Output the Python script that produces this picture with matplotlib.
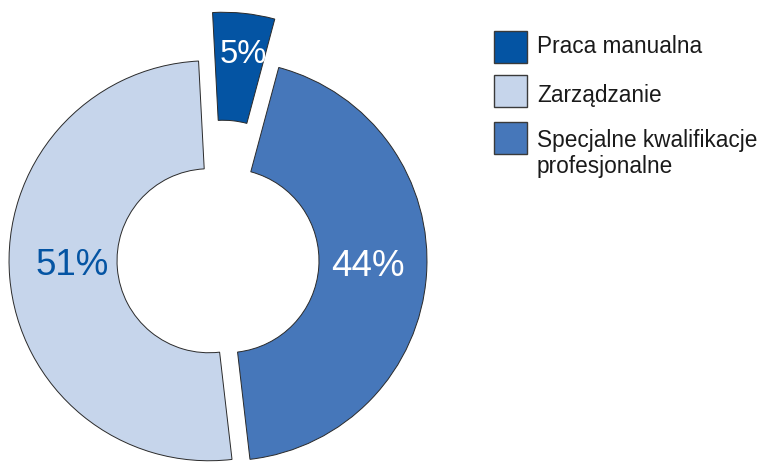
import matplotlib
matplotlib.use("Agg")
import matplotlib.pyplot as plt
from matplotlib.patches import Rectangle

# ---- data ----
categories = ["Praca manualna", "Zarządzanie", "Specjalne kwalifikacje\nprofesjonalne"]
shares = [5, 51, 44]
pct_labels = ["5%", "51%", "44%"]

# ---- style ----
colors = ["#0454A3", "#C6D5EB", "#4677BA"]
label_colors = ["white", "#0454A3", "white"]
explode = [0.24, 0.045, 0.045]
FONT = ["Liberation Sans", "DejaVu Sans"]
plt.rcParams["font.family"] = FONT

W, H = 766, 464
fig = plt.figure(figsize=(W / 100, H / 100), dpi=100)

# pie axes: 1 data unit = 200 px, pie centre at pixel (218, 261) from top-left
CX, CY, RPX = 218, 261, 200
ax = fig.add_axes([0, 0, 1, 1])
wedges, texts, autotexts = ax.pie(
    shares,
    colors=colors,
    explode=explode,
    startangle=75,
    counterclock=True,
    radius=1.0,
    autopct=lambda p: "",
    pctdistance=0.72,
    wedgeprops=dict(width=0.54, edgecolor="#2a2a2a", linewidth=0.7),
)
ax.set_xlim(-CX / RPX, (W - CX) / RPX)
ax.set_ylim(-(H - CY) / RPX, CY / RPX)
ax.set_aspect("auto")
ax.axis("off")

# percentage labels (pixel positions of text baseline centres, font sizes)
label_px = [(243, 63), (72, 275), (367.5, 275.5)]
label_fs = [23.5, 26.5, 26.5]
for t, s, c, (px, py), fs in zip(autotexts, pct_labels, label_colors, label_px, label_fs):
    t.set_text(s)
    t.set_color(c)
    t.set_fontsize(fs)
    t.set_ha("center")
    t.set_va("baseline")
    t.set_position(((px - CX) / RPX, (CY - py) / RPX))

# legend drawn in a pixel-coordinate overlay
lax = fig.add_axes([0, 0, 1, 1])
lax.set_xlim(0, W)
lax.set_ylim(H, 0)
lax.axis("off")
lax.patch.set_alpha(0)

sq_tops = [31.7, 75.7, 122.7]
baselines = [53.3, 101.7, 147.3]
for cat, col, top, base in zip(categories, colors, sq_tops, baselines):
    lax.add_patch(Rectangle((494.3, top), 32.4, 32.3, facecolor=col,
                            edgecolor="#3a3a3a", linewidth=1.0))
    lines = cat.split("\n")
    for i, ln in enumerate(lines):
        lax.text(537, base + i * 26, ln, fontsize=16.3, color="#1a1a1a",
                 ha="left", va="baseline")

fig.savefig("out.png", dpi=100)
